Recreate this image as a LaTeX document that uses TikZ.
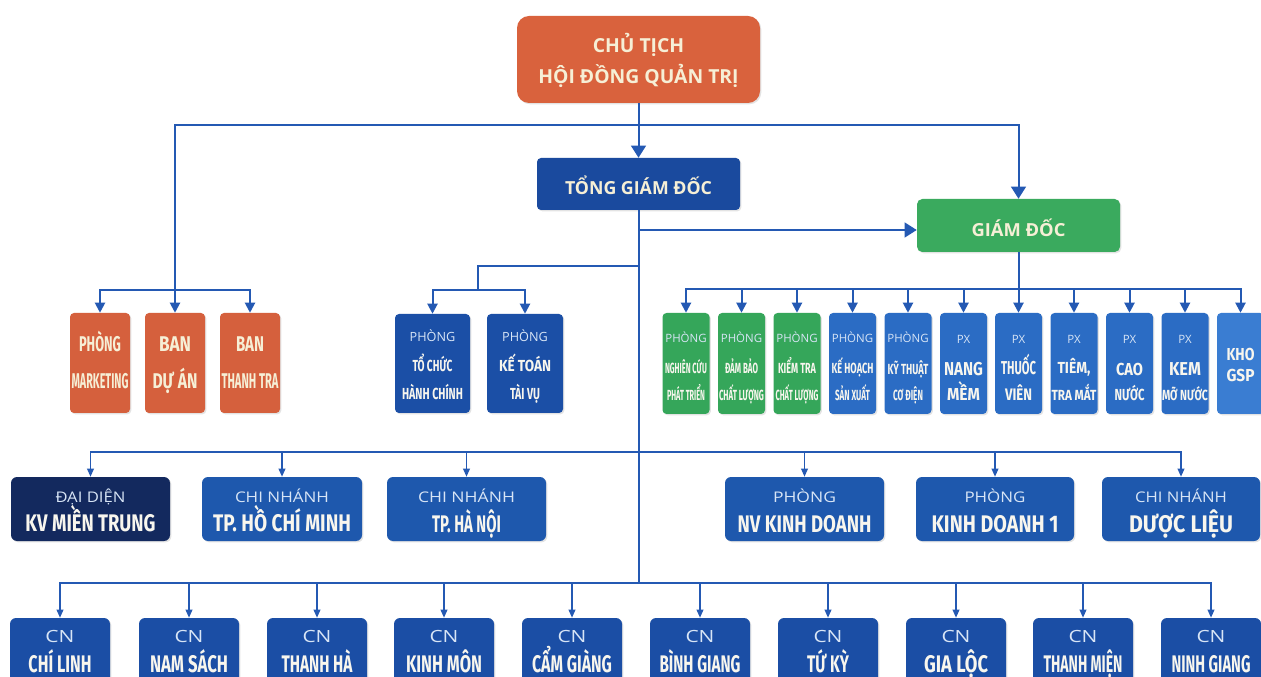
\documentclass[tikz,border=0pt]{standalone}
\usepackage{fontspec}
\usepackage{graphicx}
\setmainfont{Open Sans}
\newfontfamily\fira{Fira Sans}
\usetikzlibrary{arrows.meta,shadows}
\definecolor{lc}{HTML}{2459B3}
\definecolor{chairC}{HTML}{D9623D}
\definecolor{orC}{HTML}{D5603D}
\definecolor{tgdC}{HTML}{1A4A9E}
\definecolor{gdC}{HTML}{3AAA5E}
\definecolor{grC}{HTML}{35A65A}
\definecolor{blC}{HTML}{2B6CC4}
\definecolor{khoC}{HTML}{3A7DD2}
\definecolor{pairC}{HTML}{1B4FA6}
\definecolor{navyC}{HTML}{13295E}
\definecolor{rthreeC}{HTML}{1E58AD}
\definecolor{rfourC}{HTML}{1B4EA5}
\definecolor{tw}{HTML}{F8F6EE}
\definecolor{tl}{HTML}{D8E5F6}
\definecolor{tcream}{HTML}{F6EFD6}
\newlength\upx \setlength\upx{0.75pt}
\newcommand\ft[2]{\resizebox{#1\upx}{\height}{#2}}
\newcommand\fB[1]{\fira\bfseries\fontsize{#1}{#1}\selectfont}
\newcommand\fR[1]{\fontsize{#1}{#1}\selectfont}
\newcommand\fO[1]{\bfseries\fontsize{#1}{#1}\selectfont}
\newcommand\bx[7][]{\node[box,#1,fill=#7,minimum width={((#4)-(#3))*0.75pt},minimum height={((#6)-(#5))*0.75pt}] (#2) at ({((#3)+(#4))/2},{((#5)+(#6))/2}) {};}
\begin{document}
\begin{tikzpicture}[x=0.75pt,y=-0.75pt,
  box/.style={rounded corners=3pt,inner sep=0pt,draw=none,drop shadow={opacity=0.22,shadow xshift=1pt,shadow yshift=-1pt}},
  tx/.style={inner sep=0pt,anchor=base,text=tw},
  ts/.style={inner sep=0pt,anchor=base,text=tl},
  tc/.style={inner sep=0pt,anchor=base,text=tcream},
  ln/.style={draw=lc,line width=1.5pt},
  lnt/.style={draw=lc,line width=1.1pt},
  arrB/.style={ln,-{Triangle[width=11pt,length=9pt]}},
  arrM/.style={ln,-{Triangle[width=7.5pt,length=7.5pt]}},
  arrS/.style={lnt,-{Triangle[width=5pt,length=6pt]}}]
\useasboundingbox (0,0) rectangle (1261,677);
\clip (0,0) rectangle (1261,677);
\fill[white] (0,0) rectangle (1261,677);

% top level
\bx[rounded corners=9pt]{chair}{517}{760}{16}{103}{chairC}
\node[tc,font=\fO{14.5}] (chairA) at (638.5,53) {CHỦ TỊCH};
\node[tc,font=\fO{14.5}] (chairB) at (638.5,84) {HỘI ĐỒNG QUẢN TRỊ};
\bx{tgd}{537}{740}{158}{210}{tgdC}
\node[tc,font=\fO{13.5}] (tgdA) at (638.5,195) {\ft{147}{TỔNG GIÁM ĐỐC}};
\bx[rounded corners=4pt]{gd}{917}{1120}{199}{252}{gdC}
\node[tc,font=\fO{13.5}] (gdA) at (1018.5,237) {\ft{94}{GIÁM ĐỐC}};

% orange row
\bx{mk}{70}{130}{313}{413}{orC}
\bx{da}{145}{205}{313}{413}{orC}
\bx{tt}{220}{280}{313}{413}{orC}
\node[tc,font=\fB{16}] (mkA) at (100,352) {\ft{42}{PHÒNG}};
\node[tc,font=\fB{16}] (mkB) at (100,388) {\ft{57}{MARKETING}};
\node[tc,font=\fB{16}] (daA) at (175,352) {\ft{32}{BAN}};
\node[tc,font=\fB{16}] (daB) at (175,388) {\ft{45}{DỰ ÁN}};
\node[tc,font=\fB{16}] (ttA) at (250,352) {\ft{28}{BAN}};
\node[tc,font=\fB{16}] (ttB) at (250,388) {\ft{57}{THANH TRA}};

% blue pair
\bx{tcb}{395}{470}{314}{413}{pairC}
\bx{ktb}{487}{563}{314}{413}{pairC}
\node[ts,font=\fR{9.5}] (tcA) at (432.5,342) {PHÒNG};
\node[tx,font=\fB{12}] (tcB) at (432.5,372) {\ft{40}{TỔ CHỨC}};
\node[tx,font=\fB{12}] (tcC) at (432.5,400) {\ft{61}{HÀNH CHÍNH}};
\node[ts,font=\fR{9.5}] (ktA) at (525,342) {PHÒNG};
\node[tx,font=\fB{12}] (ktB) at (525,372) {\ft{52}{KẾ TOÁN}};
\node[tx,font=\fB{12}] (ktC) at (525,400) {\ft{30}{TÀI VỤ}};

% director row
\bx{g1}{662.5}{709.5}{313}{414}{grC}
\bx{g2}{718}{765}{313}{414}{grC}
\bx{g3}{773.5}{820.5}{313}{414}{grC}
\bx{g4}{829}{876}{313}{414}{blC}
\bx{g5}{884.5}{931.5}{313}{414}{blC}
\bx{g6}{940}{987}{313}{414}{blC}
\bx{g7}{995}{1042}{313}{414}{blC}
\bx{g8}{1050.5}{1097.5}{313}{414}{blC}
\bx{g9}{1106}{1153}{313}{414}{blC}
\bx{g10}{1161.5}{1208.5}{313}{414}{blC}
\bx{g11}{1217}{1264}{313}{414}{khoC}
\foreach \n/\c in {g1/686,g2/741.5,g3/797,g4/852.5,g5/908}
  \node[ts,font=\fR{8.6}] (\n A) at (\c,343) {PHÒNG};
\foreach \n/\c in {g6/963.5,g7/1018.5,g8/1074,g9/1129.5,g10/1185}
  \node[ts,font=\fR{8.6}] (\n A) at (\c,344) {PX};
\node[tx,font=\fB{11}] (g1B) at (686,374) {\ft{42}{NGHIÊN CỨU}};
\node[tx,font=\fB{11}] (g1C) at (686,401) {\ft{38}{PHÁT TRIỂN}};
\node[tx,font=\fB{11}] (g2B) at (741.5,374) {\ft{33}{ĐẢM BẢO}};
\node[tx,font=\fB{11}] (g2C) at (741.5,401) {\ft{45}{CHẤT LƯỢNG}};
\node[tx,font=\fB{11}] (g3B) at (797,374) {\ft{38}{KIỂM TRA}};
\node[tx,font=\fB{11}] (g3C) at (797,401) {\ft{43}{CHẤT LƯỢNG}};
\node[tx,font=\fB{11}] (g4B) at (852.5,374) {\ft{42}{KẾ HOẠCH}};
\node[tx,font=\fB{11}] (g4C) at (852.5,401) {\ft{35}{SẢN XUẤT}};
\node[tx,font=\fB{11}] (g5B) at (908,374) {\ft{41}{KỸ THUẬT}};
\node[tx,font=\fB{11}] (g5C) at (908,401) {\ft{30}{CƠ ĐIỆN}};
\node[tx,font=\fB{14}] (g6B) at (963.5,375) {\ft{39}{NANG}};
\node[tx,font=\fB{13}] (g6C) at (963.5,401) {\ft{33}{MỀM}};
\node[tx,font=\fB{14}] (g7B) at (1018.5,375) {\ft{35}{THUỐC}};
\node[tx,font=\fB{12.5}] (g7C) at (1018.5,401) {\ft{27}{VIÊN}};
\node[tx,font=\fB{12}] (g8B) at (1074,374) {\ft{33}{TIÊM,}};
\node[tx,font=\fB{11}] (g8C) at (1074,401) {\ft{45}{TRA MẮT}};
\node[tx,font=\fB{13}] (g9B) at (1129.5,375) {\ft{27}{CAO}};
\node[tx,font=\fB{12}] (g9C) at (1129.5,401) {\ft{30}{NƯỚC}};
\node[tx,font=\fB{14}] (g10B) at (1185,375) {\ft{32}{KEM}};
\node[tx,font=\fB{11}] (g10C) at (1185,401) {\ft{46}{MỠ NƯỚC}};
\node[tx,font=\fB{13}] (g11B) at (1240.5,360) {\ft{28}{KHO}};
\node[tx,font=\fB{13}] (g11C) at (1240.5,382) {\ft{28}{GSP}};

% row 3
\bx[rounded corners=4.5pt]{dd}{11}{170}{477}{541}{navyC}
\bx[rounded corners=4.5pt]{hcm}{202}{362}{477}{541}{rthreeC}
\bx[rounded corners=4.5pt]{hn}{387}{546}{477}{541}{rthreeC}
\bx[rounded corners=4.5pt]{nv}{725}{884}{477}{541}{rthreeC}
\bx[rounded corners=4.5pt]{kdm}{916}{1074}{477}{541}{rthreeC}
\bx[rounded corners=4.5pt]{dl}{1102}{1260}{477}{541}{rthreeC}
\node[ts,font=\fR{11}] (ddA) at (90.5,502) {\ft{70}{ĐẠI DIỆN}};
\node[tx,font=\fB{18}] (ddB) at (90.5,532) {\ft{130}{KV MIỀN TRUNG}};
\node[ts,font=\fR{11}] (hcmA) at (282,502) {\ft{94}{CHI NHÁNH}};
\node[tx,font=\fB{18}] (hcmB) at (282,532) {\ft{138}{TP. HỒ CHÍ MINH}};
\node[ts,font=\fR{11}] (hnA) at (466.5,502) {\ft{97}{CHI NHÁNH}};
\node[tx,font=\fB{18}] (hnB) at (466.5,532) {\ft{69}{TP. HÀ NỘI}};
\node[ts,font=\fR{11}] (nvA) at (804.5,502) {\ft{63}{PHÒNG}};
\node[tx,font=\fB{18}] (nvB) at (804.5,532) {\ft{134}{NV KINH DOANH}};
\node[ts,font=\fR{11}] (kdmA) at (995,502) {\ft{61}{PHÒNG}};
\node[tx,font=\fB{18}] (kdmB) at (995,532) {\ft{127}{KINH DOANH 1}};
\node[ts,font=\fR{11}] (dlA) at (1181,502) {\ft{92}{CHI NHÁNH}};
\node[tx,font=\fB{18}] (dlB) at (1181,532) {\ft{104}{DƯỢC LIỆU}};

% row 4
\foreach \i/\c/\w/\t in {1/60/63/CHÍ LINH,2/189/78/NAM SÁCH,3/317/71/THANH HÀ,4/444/76/KINH MÔN,5/572/80/CẨM GIÀNG,6/700/81/BÌNH GIANG,7/828/42/TỨ KỲ,8/956/64/GIA LỘC,9/1083/79/THANH MIỆN,10/1211/79/NINH GIANG}{
  \bx[rounded corners=4.5pt]{cn\i}{\c-50}{\c+50}{618}{700}{rfourC}
  \node[ts,font=\fR{12.6}] (cnA\i) at (\c,642) {\ft{29}{CN}};
  \node[tx,font=\fB{18}] (cnB\i) at (\c,672) {\ft{\w}{\t}};
}

% connectors
\coordinate (j1) at (638.5,125);
\coordinate (oj) at (175,290);
\coordinate (t2) at (638.5,230);
\coordinate (t3) at (638.5,266);
\coordinate (bj) at (478,290);
\coordinate (gj) at (1018.5,289);
\coordinate (r3) at (638.5,452);
\coordinate (r4) at (638.5,583);
\draw[arrB] (chair.south) -- (tgd.north);
\draw[ln] (j1) -| (oj);
\draw[arrB] (j1) -| (gd.north);
\draw[arrM] (oj) -- (da.north);
\draw[arrM] (oj) -| (mk.north);
\draw[arrM] (oj) -| (tt.north);
\draw[ln] (tgd.south) -- (r4);
\draw[arrB] (t2) -- (t2 -| gd.west);
\draw[ln] (t3) -| (bj);
\draw[arrM] (bj) -| (tcb.north);
\draw[arrM] (bj) -| (ktb.north);
\draw[ln] (gd.south) -- (gj);
\foreach \n in {g1,g2,g3,g4,g5,g6,g7,g8,g9,g10,g11}
  \draw[arrM] (gj) -| (\n.north);
\foreach \n in {dd,hcm,hn,nv,kdm,dl}
  \draw[arrS] (r3) -| (\n.north);
\foreach \i in {1,...,10}
  \draw[arrS] (r4) -| (cn\i.north);
\end{tikzpicture}
\end{document}
